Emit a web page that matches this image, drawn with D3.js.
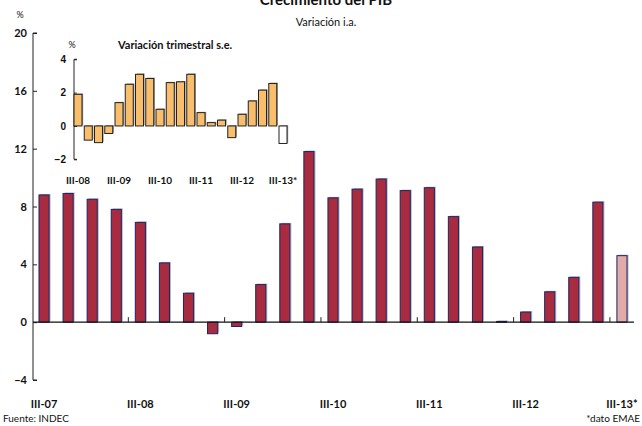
<!DOCTYPE html>
<html>
<head>
<meta charset="utf-8">
<script src="https://cdn.jsdelivr.net/npm/d3@7"></script>
<style>
  html, body { margin: 0; padding: 0; background: #fff; }
  svg { display: block; font-family: Lato, "Open Sans", sans-serif; }
</style>
</head>
<body>
<script>
// ---- Data ----
const quarters = ["III-07","IV-07","I-08","II-08","III-08","IV-08","I-09","II-09","III-09","IV-09",
  "I-10","II-10","III-10","IV-10","I-11","II-11","III-11","IV-11","I-12","II-12","III-12","IV-12",
  "I-13","II-13","III-13"];
const yoyGrowth = [8.8, 8.9, 8.5, 7.8, 6.9, 4.1, 2.0, -0.8, -0.3, 2.6, 6.8, 11.8, 8.6, 9.2, 9.9,
  9.1, 9.3, 7.3, 5.2, 0.05, 0.7, 2.1, 3.1, 8.3, 4.6];
const mainTickLabels = ["III-07","III-08","III-09","III-10","III-11","III-12","III-13*"];
const mainYTicks = [-4, 0, 4, 8, 12, 16, 20];

const insetQuarters = quarters.slice(4);
const qoqGrowth = [1.9, -0.85, -1.0, -0.45, 1.4, 2.5, 3.1, 2.85, 1.0, 2.6, 2.65, 3.1, 0.8, 0.2,
  0.35, -0.7, 0.7, 1.5, 2.15, 2.55, -1.05];
const insetTickLabels = ["III-08","III-09","III-10","III-11","III-12","III-13*"];
const insetYTicks = [-2, 0, 2, 4];

// ---- Layout ----
const W = 642, H = 426;
const svg = d3.select("body").append("svg").attr("width", W).attr("height", H);

const x = d3.scaleBand().domain(quarters).range([32, 634]).paddingInner(0.58).paddingOuter(0.29);
const y = d3.scaleLinear().domain([-4, 20]).range([380, 33]);
const axisX = 33;

// Title
svg.append("text").attr("x", 326).attr("y", 5).attr("text-anchor", "middle")
  .attr("font-size", 15).attr("font-weight", "bold").attr("fill", "#111").text("Crecimiento del PIB");
svg.append("text").attr("x", 326).attr("y", 26).attr("text-anchor", "middle")
  .attr("font-size", 11).attr("fill", "#111").text("Variación i.a.");
svg.append("text").attr("x", 20).attr("y", 18).attr("text-anchor", "middle")
  .attr("font-size", 9).attr("fill", "#111").text("%");

// Main y axis
const gy = svg.append("g").attr("transform", `translate(${axisX},0)`)
  .call(d3.axisRight(y).tickValues(mainYTicks).tickSize(4).tickFormat(d3.format("d")));
gy.select(".domain").attr("stroke", "#222").attr("d", `M4,${y(20)}H0V${y(-4)}H4`);
gy.selectAll(".tick line").attr("stroke", "#222");
gy.selectAll(".tick text").attr("x", -6).attr("text-anchor", "end")
  .attr("font-size", 11).attr("font-weight", "bold").attr("fill", "#111")
  .attr("font-family", "Lato, sans-serif");

// Bars (shadow + main)
const bw = x.bandwidth();
svg.append("g").selectAll("rect").data(yoyGrowth).join("rect")
  .attr("x", (d, i) => x(quarters[i]) + 1.5)
  .attr("y", d => Math.min(y(d), y(0)) - 1)
  .attr("width", bw)
  .attr("height", d => Math.abs(y(d) - y(0)))
  .attr("fill", "#b3b8cf");
svg.append("g").selectAll("rect").data(yoyGrowth).join("rect")
  .attr("x", (d, i) => x(quarters[i]))
  .attr("y", d => Math.min(y(d), y(0)))
  .attr("width", bw)
  .attr("height", d => Math.abs(y(d) - y(0)))
  .attr("fill", (d, i) => i === yoyGrowth.length - 1 ? "#e2aaa9" : "#a82b40")
  .attr("stroke", "#1c2660").attr("stroke-width", 1);

// Zero line and x ticks
svg.append("line").attr("x1", axisX).attr("x2", 634).attr("y1", y(0)).attr("y2", y(0))
  .attr("stroke", "#111").attr("stroke-width", 1.2);
const step = x.step();
const labelIdx = mainTickLabels.map((_, k) => 4 * k);
svg.append("g").selectAll("line").data(labelIdx.slice(1)).join("line")
  .attr("x1", i => x(quarters[i]) + bw / 2 - step / 2)
  .attr("x2", i => x(quarters[i]) + bw / 2 - step / 2)
  .attr("y1", y(0)).attr("y2", y(0) - 5).attr("stroke", "#222");
svg.append("g").selectAll("text").data(mainTickLabels).join("text")
  .attr("x", (d, k) => x(quarters[4 * k]) + bw / 2)
  .attr("y", 408).attr("text-anchor", "middle")
  .attr("font-size", 11).attr("font-weight", "bold").attr("fill", "#111").text(d => d);

// Footer
svg.append("text").attr("x", 3).attr("y", 422).attr("font-size", 10).attr("fill", "#111")
  .text("Fuente: INDEC");
svg.append("text").attr("x", 640).attr("y", 422).attr("text-anchor", "end")
  .attr("font-size", 10).attr("fill", "#111").text("*dato EMAE");

// ---- Inset ----
const ix = d3.scaleBand().domain(insetQuarters).range([74, 287]).paddingInner(0.22).paddingOuter(0.0);
const iy = d3.scaleLinear().domain([-2, 4]).range([159.3, 59.3]);
const iAxisX = 74;
const ibw = ix.bandwidth();

svg.append("text").attr("x", 72).attr("y", 48).attr("text-anchor", "middle")
  .attr("font-size", 9).attr("fill", "#111").text("%");
svg.append("text").attr("x", 118).attr("y", 49)
  .attr("font-size", 11).attr("font-weight", "bold").attr("fill", "#111").text("Variación trimestral s.e.");

const giy = svg.append("g").attr("transform", `translate(${iAxisX},0)`)
  .call(d3.axisRight(iy).tickValues(insetYTicks).tickSize(3).tickFormat(d3.format("d")));
giy.select(".domain").attr("stroke", "#222").attr("d", `M3,${iy(4)}H0V${iy(-2)}H3`);
giy.selectAll(".tick line").attr("stroke", "#222");
giy.selectAll(".tick text").attr("x", -8).attr("text-anchor", "end")
  .attr("font-size", 10).attr("font-weight", "bold").attr("fill", "#111");

svg.append("g").selectAll("rect").data(qoqGrowth).join("rect")
  .attr("x", (d, i) => ix(insetQuarters[i]) + 1.2)
  .attr("y", d => Math.min(iy(d), iy(0)) - 0.8)
  .attr("width", ibw)
  .attr("height", d => Math.abs(iy(d) - iy(0)))
  .attr("fill", "#9a9a9a");
svg.append("g").selectAll("rect").data(qoqGrowth).join("rect")
  .attr("x", (d, i) => ix(insetQuarters[i]))
  .attr("y", d => Math.min(iy(d), iy(0)))
  .attr("width", ibw)
  .attr("height", d => Math.abs(iy(d) - iy(0)))
  .attr("fill", (d, i) => i === qoqGrowth.length - 1 ? "#ffffff" : "#f9be6c")
  .attr("stroke", "#222").attr("stroke-width", 1);

svg.append("g").selectAll("text").data(insetTickLabels).join("text")
  .attr("x", (d, k) => ix(insetQuarters[4 * k]) + ibw / 2 + (k === insetTickLabels.length - 1 ? 0 : 0))
  .attr("y", 184).attr("text-anchor", "middle")
  .attr("font-size", 10).attr("font-weight", "bold").attr("fill", "#111").text(d => d);
</script>
</body>
</html>
